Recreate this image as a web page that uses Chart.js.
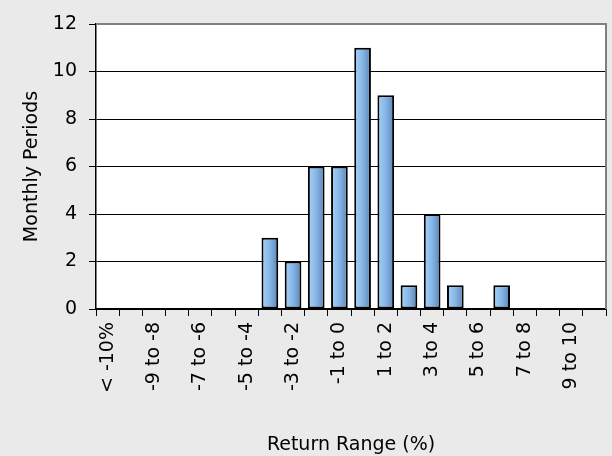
<!DOCTYPE html>
<html>
<head>
<meta charset="utf-8">
<script src="https://cdn.jsdelivr.net/npm/chart.js@4"></script>
<style>
  html, body { margin: 0; padding: 0; background: #eaeaea; }
  #wrap { width: 612px; height: 456px; }
</style>
</head>
<body>
<div id="wrap"><canvas id="histChart" width="612" height="456"></canvas></div>
<script>
const ranges = ["< -10%", "-10 to -9", "-9 to -8", "-8 to -7", "-7 to -6", "-6 to -5",
  "-5 to -4", "-4 to -3", "-3 to -2", "-2 to -1", "-1 to 0", "0 to 1", "1 to 2",
  "2 to 3", "3 to 4", "4 to 5", "5 to 6", "6 to 7", "7 to 8", "8 to 9", "9 to 10", "> 10%"];
const periods = [0, 0, 0, 0, 0, 0, 0, 3, 2, 6, 6, 11, 9, 1, 4, 1, 0, 1, 0, 0, 0, 0];
const yTicks = [0, 2, 4, 6, 8, 10, 12];

const fontFam = "'DejaVu Sans', Verdana, sans-serif";
const fontSize = 19;

// gray page + white plot area + gray top/right frame
const frame = {
  id: "frame",
  beforeDraw(chart) {
    const c = chart.ctx, a = chart.chartArea;
    c.save();
    c.fillStyle = "#eaeaea";
    c.fillRect(0, 0, chart.width, chart.height);
    c.fillStyle = "#ffffff";
    c.fillRect(a.left, a.top, a.right - a.left, a.bottom - a.top);
    c.restore();
  },
  afterDraw(chart) {
    const c = chart.ctx, a = chart.chartArea;
    c.save();
    c.strokeStyle = "#808080";
    c.lineWidth = 2;
    c.beginPath();
    c.moveTo(a.left, a.top);
    c.lineTo(a.right, a.top);
    c.lineTo(a.right, a.bottom);
    c.stroke();
    c.restore();
  }
};

function barFill(ctx) {
  const chart = ctx.chart;
  const xs = chart.scales.x;
  if (!xs || xs.width === undefined) return "#7fb0e0";
  const cx = xs.getPixelForValue(ctx.dataIndex);
  const w = xs.width / ranges.length * 0.72;
  const g = chart.ctx.createLinearGradient(cx - w / 2, 0, cx + w / 2, 0);
  g.addColorStop(0, "#a6d2fa");
  g.addColorStop(0.5, "#86b6e6");
  g.addColorStop(1, "#5a84b4");
  return g;
}

new Chart(document.getElementById("histChart"), {
  type: "bar",
  data: {
    labels: ranges,
    datasets: [{
      data: periods,
      backgroundColor: barFill,
      borderColor: "#000000",
      borderWidth: 2,
      borderSkipped: false,
      barPercentage: 0.72,
      categoryPercentage: 1.0
    }]
  },
  options: {
    responsive: false,
    animation: false,
    layout: { padding: { left: 17, top: 24, right: 6, bottom: 0 } },
    plugins: { legend: { display: false }, tooltip: { enabled: false } },
    scales: {
      x: {
        afterFit(s) {
          s.height = 147;
          s.paddingLeft = 0;
          s.paddingRight = 0;
        },
        grid: { drawOnChartArea: false, drawTicks: true, tickLength: 7, color: "#000000", offset: true },
        border: { color: "#000000", width: 1.5 },
        ticks: {
          autoSkip: false,
          minRotation: 90,
          maxRotation: 90,
          color: "#000000",
          font: { family: fontFam, size: fontSize },
          padding: 6,
          callback: (v, i) => (i % 2 === 0 ? ranges[i] : "")
        },
        title: {
          display: true,
          text: "Return Range (%)",
          color: "#000000",
          padding: { top: 4, bottom: 0 },
          font: { family: fontFam, size: fontSize }
        }
      },
      y: {
        min: 0,
        max: 12,
        afterFit(s) {
          s.width = 79;
          s.paddingTop = 0;
          s.paddingBottom = 0;
        },
        afterBuildTicks(s) { s.ticks = yTicks.map(v => ({ value: v })); },
        grid: { color: "#000000", lineWidth: 1, tickLength: 7 },
        border: { color: "#000000", width: 1.5 },
        ticks: {
          color: "#000000",
          font: { family: fontFam, size: fontSize },
          padding: 12
        },
        title: {
          display: true,
          text: "Monthly Periods",
          color: "#000000",
          font: { family: fontFam, size: fontSize }
        }
      }
    }
  },
  plugins: [frame]
});
</script>
</body>
</html>
